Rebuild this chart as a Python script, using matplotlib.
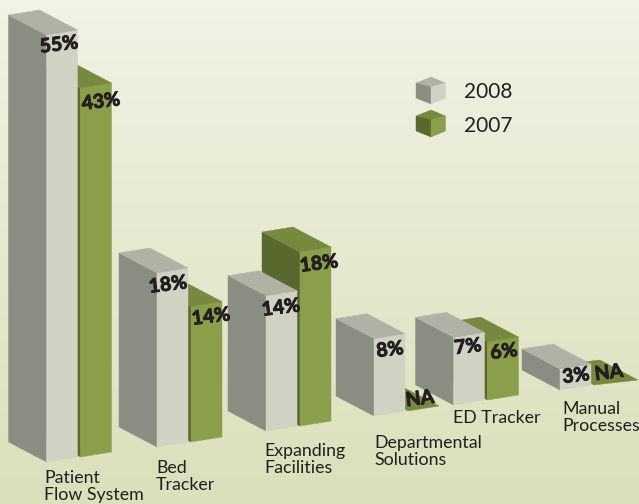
import numpy as np
import matplotlib
matplotlib.use('Agg')
import matplotlib.pyplot as plt
import matplotlib.patheffects as pe
from matplotlib.patches import Polygon

categories = ['Patient\nFlow System', 'Bed\nTracker', 'Expanding\nFacilities',
              'Departmental\nSolutions', 'ED Tracker', 'Manual\nProcesses']
values_2008 = [55, 18, 14, 8, 7, 3]
values_2007 = [43, 14, 18, None, 6, None]
years = ['2008', '2007']

# the picture's height axis is not linear: tall bars are squeezed
scale_values = [0, 3, 6, 18, 43, 55]
scale_pixels = [0, 21, 58, 174, 369, 427]

# layout, in pixels of the picture
base_x = [46.5, 157, 266, 374, 453.5, 560]
base_y = [462, 447, 431, 416, 405, 390]
green_dx = 34
green_dy = -5
bar_w = 31
bar_rise = -5
depth = (-38, -20)
last_green_w = 44

cat_xy = [(44, 500), (156, 490), (264, 473), (374, 465), (453, 423), (562, 431)]
gray_label_xy = [(59, 45), (168, 285), (281, 308), (390, 350), (468, 347), (576, 376)]
green_label_xy = [(101, 102), (211, 317), (319, 264), (420, 399), (504, 352), (609, 373)]

GRAY = dict(side='#8a8d81', front='#d0d2c4', top='#b0b2a6')
GREEN = dict(side='#59692e', front='#8b9f4b', top='#76893f')
INK = '#231f20'

plt.rcParams['font.family'] = ['Lato', 'DejaVu Sans']


def bar_height(v):
    return np.interp(v, scale_values, scale_pixels)


def poly(ax, pts, color, z):
    ax.add_patch(Polygon(pts, closed=True, facecolor=color, edgecolor=color, lw=0.3, zorder=z))


def draw_bar(ax, x, y, v, w, colors, z):
    h = bar_height(v)
    dx, dy = depth
    if h > 0:
        poly(ax, [(x, y), (x, y - h), (x + dx, y - h + dy), (x + dx, y + dy)], colors['side'], z)
        poly(ax, [(x, y), (x, y - h), (x + w, y - h + bar_rise), (x + w, y + bar_rise)], colors['front'], z)
    poly(ax, [(x, y - h), (x + w, y - h + bar_rise), (x + w + dx, y - h + bar_rise + dy),
              (x + dx, y - h + dy)], colors['top'], z)


def draw_cube(ax, cx, top, colors):
    poly(ax, [(cx, top), (cx + 14.5, top + 6), (cx, top + 10), (cx - 15, top + 6)], colors['top'], 5)
    poly(ax, [(cx - 15, top + 6), (cx, top + 10), (cx, top + 27), (cx - 15, top + 21)], colors['side'], 5)
    poly(ax, [(cx, top + 10), (cx + 14.5, top + 6), (cx + 14.5, top + 21), (cx, top + 27)], colors['front'], 5)


def value_label(ax, xy, s):
    t = ax.text(xy[0], xy[1], s, fontsize=14, fontweight='bold', color=INK,
                ha='center', va='center', rotation=7, zorder=6)
    t.set_path_effects([pe.withStroke(linewidth=0.7, foreground=INK)])


fig = plt.figure(figsize=(6.39, 5.04), dpi=100)
ax = fig.add_axes([0, 0, 1, 1])
ax.set_xlim(0, 639)
ax.set_ylim(504, 0)
ax.axis('off')

# background fades from pale cream to a soft green
top_col = np.array([241, 243, 229]) / 255
mid_col = np.array([231, 235, 212]) / 255
low_col = np.array([218, 224, 186]) / 255
t = np.linspace(0, 1, 256)[:, None]
grad = np.where(t < 0.4, top_col + (mid_col - top_col) * t / 0.4,
                mid_col + (low_col - mid_col) * (t - 0.4) / 0.6)
ax.imshow(grad[:, None, :], extent=(0, 639, 504, 0), aspect='auto', zorder=0)

for i in range(len(categories)):
    x, y = base_x[i], base_y[i]
    g = values_2007[i]
    w = last_green_w if i == len(categories) - 1 else bar_w
    draw_bar(ax, x + green_dx, y + green_dy, 0 if g is None else g, w, GREEN, 2 + i * 0.1)
    draw_bar(ax, x, y, values_2008[i], bar_w, GRAY, 2.05 + i * 0.1)

    ax.text(cat_xy[i][0], cat_xy[i][1], categories[i], fontsize=12.8, color=INK,
            ha='left', va='baseline', linespacing=1.1, zorder=6)
    value_label(ax, gray_label_xy[i], '%d%%' % values_2008[i])
    value_label(ax, green_label_xy[i], 'NA' if g is None else '%d%%' % g)

draw_cube(ax, 431, 77, GRAY)
draw_cube(ax, 431, 110, GREEN)
ax.text(464, 92.5, years[0], fontsize=15, color=INK, ha='left', va='center', zorder=6)
ax.text(464, 126.5, years[1], fontsize=15, color=INK, ha='left', va='center', zorder=6)

fig.savefig('out.png', dpi=100)
